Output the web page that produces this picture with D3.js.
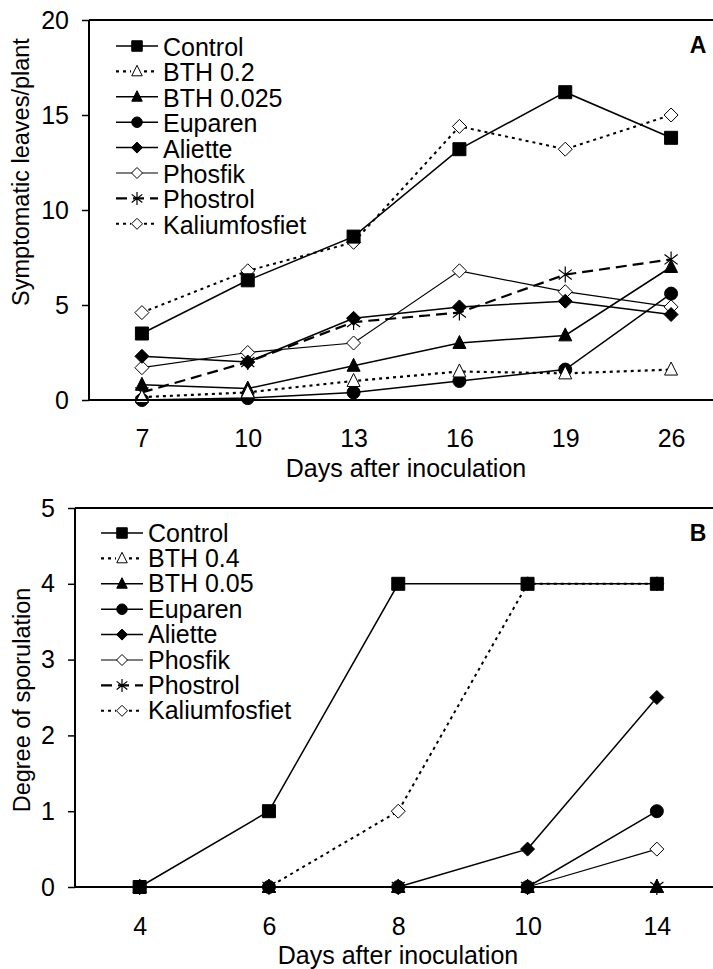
<!DOCTYPE html>
<html>
<head>
<meta charset="utf-8">
<script src="https://cdn.jsdelivr.net/npm/d3@7"></script>
<style>
  html, body { margin: 0; padding: 0; background: #fff; }
  svg { display: block; }
  text { font-family: "Liberation Sans", Arial, sans-serif; fill: #000; }
</style>
</head>
<body>
<svg id="chart" width="713" height="969"></svg>
<script>
// ---------- DATA ----------
const daysA = ["7", "10", "13", "16", "19", "26"];
const namesA = ["Control", "BTH 0.2", "BTH 0.025", "Euparen", "Aliette", "Phosfik", "Phostrol", "Kaliumfosfiet"];
const controlA = [3.5, 6.3, 8.6, 13.2, 16.2, 13.8];
const bthHighA = [0.15, 0.4, 1.0, 1.5, 1.4, 1.6];
const bthLowA = [0.8, 0.6, 1.8, 3.0, 3.4, 7.0];
const euparenA = [0.0, 0.1, 0.4, 1.0, 1.6, 5.6];
const alietteA = [2.3, 2.0, 4.3, 4.9, 5.2, 4.5];
const phosfikA = [1.7, 2.5, 3.0, 6.8, 5.7, 4.9];
const phostrolA = [0.4, 2.0, 4.1, 4.6, 6.6, 7.4];
const kaliumA = [4.6, 6.8, 8.3, 14.4, 13.2, 15.0];
const yTicksA = [0, 5, 10, 15, 20];

const daysB = ["4", "6", "8", "10", "14"];
const namesB = ["Control", "BTH 0.4", "BTH 0.05", "Euparen", "Aliette", "Phosfik", "Phostrol", "Kaliumfosfiet"];
const controlB = [0, 1, 4, 4, 4];
const bthHighB = [0, 0, 0, 0, 0];
const bthLowB = [0, 0, 0, 0, 0];
const euparenB = [0, 0, 0, 0, 1];
const alietteB = [0, 0, 0, 0.5, 2.5];
const phosfikB = [0, 0, 0, 0, 0.5];
const phostrolB = [0, 0, 0, 0, 0];
const kaliumB = [0, 0, 1, 4, 4];
const yTicksB = [0, 1, 2, 3, 4, 5];

// ---------- STYLES per series (order matches names) ----------
const styles = [
  { shape: "square",   fill: "#000", dash: null,   width: 1.5 },
  { shape: "triangle", fill: "#fff", dash: "3,4",  width: 2.2 },
  { shape: "triangle", fill: "#000", dash: null,   width: 1.5 },
  { shape: "circle",   fill: "#000", dash: null,   width: 1.5 },
  { shape: "diamond",  fill: "#000", dash: null,   width: 1.5 },
  { shape: "diamond",  fill: "#fff", dash: null,   width: 1.2 },
  { shape: "asterisk", fill: "none", dash: "11,6", width: 2.2 },
  { shape: "diamond",  fill: "#fff", dash: "3,4",  width: 2.0 }
];

const FS = 25;      // horizontal text size
const FSV = 23.5;   // vertical axis titles

function shapePath(shape, s) {
  const h = s / 2;
  switch (shape) {
    case "square": return `M${-h},${-h}H${h}V${h}H${-h}Z`;
    case "triangle": return `M0,${-s * 0.58}L${h},${s * 0.42}L${-h},${s * 0.42}Z`;
    case "circle": return `M${h},0A${h},${h} 0 1,1 ${-h},0A${h},${h} 0 1,1 ${h},0Z`;
    case "diamond": return `M0,${-h}L${h},0L0,${h}L${-h},0Z`;
    case "asterisk": {
      const dx = h * 0.82, dy = h * 0.62;
      return `M0,${-h}V${h}M${-dx},${-dy}L${dx},${dy}M${-dx},${dy}L${dx},${-dy}`;
    }
  }
}

function drawMarker(g, shape, fill, x, y, size) {
  g.append("path")
    .attr("d", shapePath(shape, size))
    .attr("transform", `translate(${x},${y})`)
    .attr("fill", shape === "asterisk" ? "none" : fill)
    .attr("stroke", "#000")
    .attr("stroke-width", shape === "asterisk" ? 1.2 : 1);
}

const svg = d3.select("#chart");
svg.append("rect").attr("width", 713).attr("height", 969).attr("fill", "#fff");

function panel(cfg) {
  const { days, names, series, zOrder, yMax, yTicks, left, top, bottom, right, label, yTitle, yTitleX, yTitleY,
          tickBase, titleBase, titleX, legX, legY0, legStep, legOffset } = cfg;
  const x = d3.scalePoint().domain(days).range([left, right]).padding(0.5);
  const y = d3.scaleLinear().domain([0, yMax]).range([bottom, top]);
  const g = svg.append("g");

  const line = d3.line().x((d, i) => x(days[i])).y(d => y(d));
  zOrder.forEach(k => {
    const st = styles[k];
    g.append("path").attr("d", line(series[k]))
      .attr("fill", "none").attr("stroke", "#000")
      .attr("stroke-width", st.width)
      .attr("stroke-dasharray", st.dash);
  });
  zOrder.forEach(k => {
    const st = styles[k];
    const sz = st.shape === "circle" ? 13 : st.shape === "diamond" ? 14 : st.shape === "asterisk" ? 16 : 13;
    series[k].forEach((v, i) => drawMarker(g, st.shape, st.fill, x(days[i]), y(v), sz));
  });

  // frame lines
  g.append("line").attr("x1", left).attr("x2", 740).attr("y1", top).attr("y2", top)
    .attr("stroke", "#000").attr("stroke-width", 2);
  g.append("line").attr("x1", left).attr("x2", 740).attr("y1", bottom).attr("y2", bottom)
    .attr("stroke", "#000").attr("stroke-width", 2);

  // y axis
  const ya = g.append("g").attr("transform", `translate(${left},0)`)
    .call(d3.axisLeft(y).tickValues(yTicks).tickFormat(d3.format("d")).tickSize(7).tickPadding(13));
  ya.select(".domain").attr("stroke-width", 2).attr("d", `M0,${top}V${bottom}`);
  ya.selectAll(".tick line").attr("stroke-width", 1.5);
  ya.selectAll(".tick text").attr("font-size", FS)
    .attr("font-family", "Liberation Sans, Arial, sans-serif");

  // x axis (labels only)
  const xa = g.append("g").attr("transform", `translate(0,${bottom})`)
    .call(d3.axisBottom(x).tickSize(0).tickPadding(0));
  xa.select(".domain").remove();
  xa.selectAll(".tick text").attr("font-size", FS)
    .attr("dy", null).attr("y", tickBase - bottom)
    .attr("font-family", "Liberation Sans, Arial, sans-serif");

  g.append("text").attr("x", titleX).attr("y", titleBase).attr("text-anchor", "middle")
    .attr("font-size", FS).text("Days after inoculation");
  g.append("text").attr("transform", `translate(${yTitleX},${yTitleY}) rotate(-90)`)
    .attr("text-anchor", "middle").attr("font-size", FSV).text(yTitle);
  g.append("text").attr("x", 698).attr("y", top + 33).attr("text-anchor", "middle")
    .attr("font-size", 23).attr("font-weight", "bold").text(label);

  // legend
  names.forEach((n, k) => {
    const st = styles[k];
    const base = legY0 + k * legStep;
    const my = base - legOffset;
    g.append("line").attr("x1", legX).attr("x2", legX + 42).attr("y1", my).attr("y2", my)
      .attr("stroke", "#000").attr("stroke-width", st.width).attr("stroke-dasharray", st.dash);
    const sz = st.shape === "asterisk" ? 13 : st.shape === "diamond" ? 11 : 10.5;
    if (st.shape !== "asterisk" && st.dash) {
      g.append("rect").attr("x", legX + 21 - 6).attr("y", my - 6).attr("width", 12).attr("height", 12)
        .attr("fill", "#fff");
    }
    drawMarker(g, st.shape, st.fill, legX + 21, my, sz);
    g.append("text").attr("x", legX + 47).attr("y", base).attr("font-size", FS).text(n);
  });
}

panel({
  days: daysA, names: namesA,
  series: [controlA, bthHighA, bthLowA, euparenA, alietteA, phosfikA, phostrolA, kaliumA],
  zOrder: [7, 6, 5, 4, 3, 2, 1, 0],
  yMax: 20, yTicks: yTicksA, left: 89, right: 724, top: 20, bottom: 400, label: "A",
  yTitle: "Symptomatic leaves/plant", yTitleX: 29, yTitleY: 172,
  tickBase: 447, titleBase: 477, titleX: 406,
  legX: 116, legY0: 56, legStep: 25.4, legOffset: 10
});

panel({
  days: daysB, names: namesB,
  series: [controlB, bthHighB, bthLowB, euparenB, alietteB, phosfikB, phostrolB, kaliumB],
  zOrder: [7, 5, 1, 6, 4, 2, 3, 0],
  yMax: 5, yTicks: yTicksB, left: 75, right: 721.5, top: 508, bottom: 887, label: "B",
  yTitle: "Degree of sporulation", yTitleX: 30, yTitleY: 700,
  tickBase: 935, titleBase: 964, titleX: 398,
  legX: 101, legY0: 541.5, legStep: 25.4, legOffset: 8.5
});
</script>
</body>
</html>
